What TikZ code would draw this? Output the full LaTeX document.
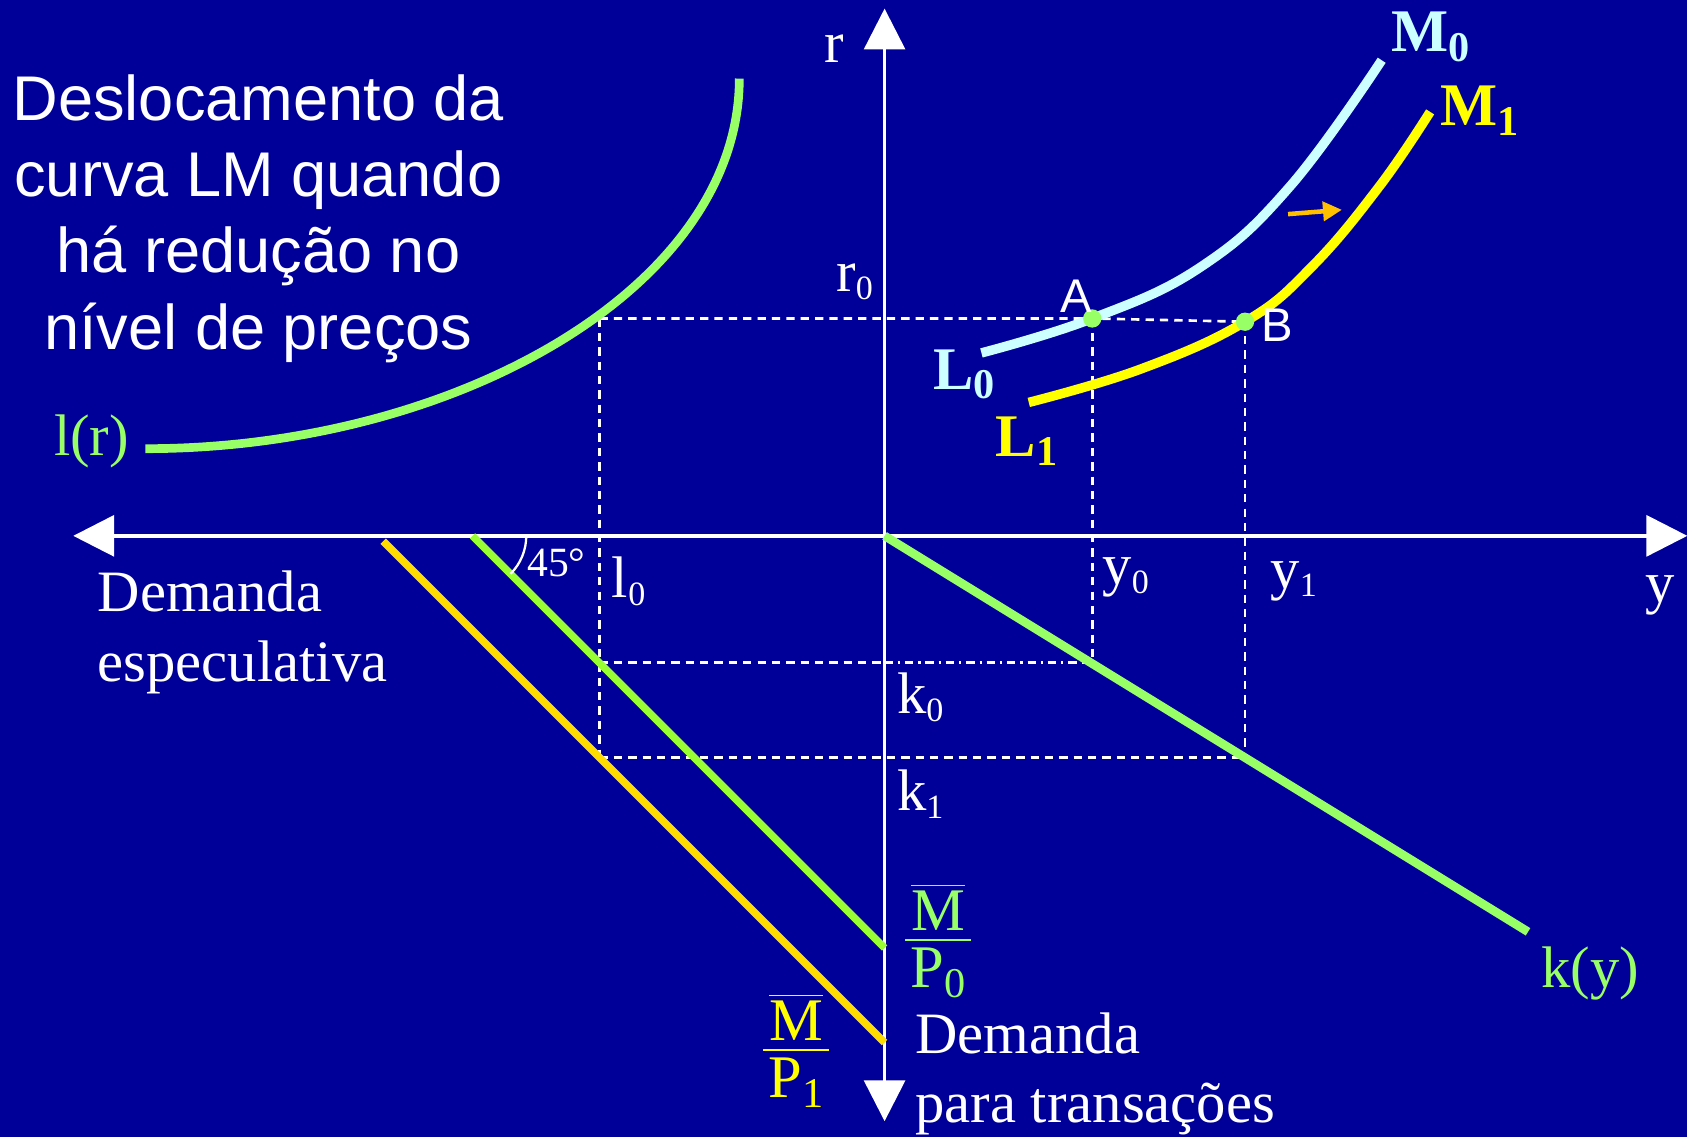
\documentclass[tikz,border=0pt]{standalone}
\usepackage{fontspec}
\setmainfont{Liberation Serif}
\setsansfont{Liberation Sans}
\usetikzlibrary{arrows.meta}
\definecolor{bgblue}{RGB}{0,0,153}
\definecolor{lrgreen}{RGB}{153,255,102}
\definecolor{limegreen}{RGB}{153,255,51}
\definecolor{lmcyan}{RGB}{204,255,255}
\definecolor{lmyellow}{RGB}{255,255,0}
\definecolor{golden}{RGB}{255,221,0}
\definecolor{shiftorange}{RGB}{255,192,0}
\newcommand{\lowsub}[1]{\textsubscript{\fontsize{9}{9}\selectfont #1}}
\newcommand{\mfrac}[1]{$\frac{\overline{\hbox{M}}}{\hbox{\kern1.5pt\rule{0pt}{12pt}P\textsubscript{#1}\kern1pt}}$}
\tikzset{
  axisline/.style={white,line width=0.9pt},
  guide/.style={white,line width=0.7pt,dash pattern=on 2.2pt off 1.6pt},
  curve/.style={line width=2.3pt},
  lbl/.style={text=white,font=\fontsize{15.5}{18.4}\selectfont,inner sep=0pt},
  boldlbl/.style={font=\fontsize{16}{18}\selectfont\bfseries,inner sep=0pt},
  fraclbl/.style={font=\fontsize{16}{18}\selectfont,inner sep=0pt}
}
\begin{document}
\begin{tikzpicture}
  \fill[bgblue] (-8.22,-5.59) rectangle (7.46,4.98);
  % axes
  \coordinate (O) at (0,0);
  \coordinate (xl) at (-7.54,0);
  \coordinate (xr) at (7.46,0);
  \coordinate (yt) at (0,4.90);
  \coordinate (yb) at (0,-5.44);
  \draw[axisline,{Triangle[width=3.8mm,length=3.8mm]}-{Triangle[width=3.8mm,length=3.8mm]}] (xl) -- (xr);
  \draw[axisline,{Triangle[width=3.8mm,length=3.8mm]}-{Triangle[width=3.8mm,length=3.8mm]}] (yb) -- (yt);
  % equilibrium values
  \coordinate (l0) at (-2.65,0);
  \coordinate (r0) at (0,2.02);
  \coordinate (A) at (1.93,2.02);
  \coordinate (B) at (3.35,1.99);
  \coordinate (k0) at (0,-1.18);
  \coordinate (k1) at (0,-2.06);
  % dashed guides
  \draw[guide] (l0 |- r0) -- (A) -- (B);
  \draw[guide] (l0 |- r0) -- (l0 |- k1);
  \draw[guide] (A) -- (A |- k0);
  \draw[guide] (B) -- (B |- k1);
  \draw[guide] (l0 |- k0) -- (k0);
  \draw[guide,dash pattern=on 2.2pt off 1.3pt on 0.6pt off 1.3pt] (k0) -- (A |- k0);
  \draw[guide] (l0 |- k1) -- (B |- k1);
  % l(r)
  \draw[curve,lrgreen] (-6.87,0.81) .. controls (-4.0,0.81) and (-1.35,2.3) .. (-1.35,4.25);
  % 45 degree lines
  \coordinate (g0) at (-3.83,0);
  \coordinate (g1) at (0,-3.83);
  \coordinate (h0) at (-4.66,-0.05);
  \coordinate (h1) at (0,-4.71);
  \draw[curve,line width=2pt,limegreen] (g0) -- (g1);
  \draw[curve,line width=2pt,golden] (h0) -- (h1);
  \draw[white,line width=0.6pt] ([xshift=5mm]g0) arc[start angle=0,end angle=-45,radius=5mm];
  % k(y)
  \coordinate (ky) at (5.98,-3.68);
  \draw[curve,lrgreen] (O) -- (ky);
  % LM curves
  \draw[curve,line width=2.5pt,lmcyan] plot[smooth,tension=0.7] coordinates
    {(0.90,1.70) (1.93,2.02) (2.94,2.50) (3.77,3.25) (4.62,4.42)};
  \draw[curve,line width=2.5pt,lmyellow] plot[smooth,tension=0.7] coordinates
    {(1.34,1.24) (2.38,1.55) (3.35,1.99) (3.97,2.50) (4.60,3.25) (5.07,3.94)};
  \coordinate (sh0) at (3.75,2.99);
  \coordinate (sh1) at (4.25,3.03);
  \draw[shiftorange,line width=1.2pt,-{Triangle[width=5pt,length=5pt]}] (sh0) -- (sh1);
  \fill[lrgreen] (A) circle (0.085);
  \fill[lrgreen] (B) circle (0.085);
  % labels
  \node[lbl] (rlbl) at (-0.47,4.53) {r};
  \node[lbl] (ylbl) at (7.21,-0.55) {y};
  \node[lbl] (r0lbl) at (-0.27,2.36) {r\lowsub{0}};
  \node[lbl] (l0lbl) at (-2.37,-0.42) {l\lowsub{0}};
  \node[lbl] (y0lbl) at (2.25,-0.39) {y\lowsub{0}};
  \node[lbl] (y1lbl) at (3.81,-0.42) {y\lowsub{1}};
  \node[lbl] (k0lbl) at (0.34,-1.50) {k\lowsub{0}};
  \node[lbl] (k1lbl) at (0.34,-2.40) {k\lowsub{1}};
  \node[lbl,font=\fontsize{11}{13}\selectfont] (deg) at (-3.05,-0.25) {45°};
  \node[lbl,text=lrgreen] (lrlbl) at (-7.37,0.88) {l(r)};
  \node[lbl,text=lrgreen] (kylbl) at (6.56,-4.07) {k(y)};
  \node[lbl,font=\sffamily\fontsize{12.5}{14}\selectfont] (Albl) at (1.78,2.23) {A};
  \node[lbl,font=\sffamily\fontsize{12.5}{14}\selectfont] (Blbl) at (3.65,1.96) {B};
  \node[boldlbl,text=lmcyan] (L0lbl) at (0.75,1.50) {L\textsubscript{0}};
  \node[boldlbl,text=lmyellow] (L1lbl) at (1.33,0.88) {L\textsubscript{1}};
  \node[boldlbl,text=lmcyan] (M0lbl) at (5.08,4.64) {M\textsubscript{0}};
  \node[boldlbl,text=lmyellow] (M1lbl) at (5.54,3.95) {M\textsubscript{1}};
  \node[fraclbl,text=lrgreen] (mp0) at (0.50,-3.76) {\mfrac{0}};
  \node[fraclbl,text=lmyellow] (mp1) at (-0.82,-4.78) {\mfrac{1}};
  \node[lbl,align=left,anchor=west] (especul) at (-7.32,-0.90) {Demanda\\especulativa};
  \node[lbl,align=left,anchor=west] (transac) at (0.28,-5.00) {Demanda\\para transações};
  \node[text=white,font=\sffamily\fontsize{16.7}{20.2}\selectfont,align=center] (title) at (-5.82,2.95)
    {Deslocamento da\\curva LM quando\\há redução no\\nível de preços};
\end{tikzpicture}
\end{document}
